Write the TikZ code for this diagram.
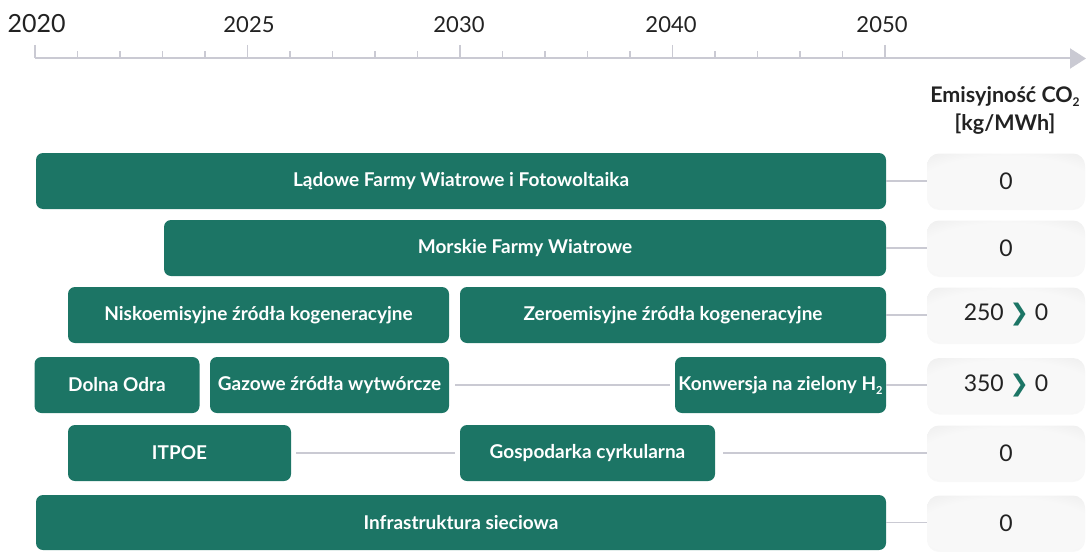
\documentclass[tikz,border=0pt]{standalone}
\usepackage{fontspec}
\setmainfont{Lato}
\newfontfamily\symfont{DejaVu Sans}
\usetikzlibrary{arrows.meta,shadows}
\definecolor{tgreen}{HTML}{1C7565}
\definecolor{tline}{HTML}{CACAD3}
\definecolor{tdark}{HTML}{222222}
\definecolor{bxin}{HTML}{F8F8F8}
\definecolor{bxout}{HTML}{E2E2E2}
\pgfdeclareradialshading{softbox}{\pgfpoint{0bp}{-8bp}}{color(0bp)=(bxin); color(28bp)=(bxin); color(52bp)=(bxout); color(80bp)=(bxout)}
\newcommand{\chev}{{\color{tgreen}\symfont\bfseries ❯}}
\newcommand{\subtwo}[1]{\raisebox{-0.42ex}{\fontsize{#1}{#1}\selectfont 2}}
\tikzset{
  gbox/.style={fill=tgreen, rounded corners=7pt, text=white, inner sep=0pt,
    font=\fontsize{19}{22}\selectfont\bfseries, minimum height=56pt},
  vbox/.style={shading=softbox, rounded corners=12pt, text=tdark, inner sep=0pt,
    font=\fontsize{23}{26}\selectfont, minimum width=158pt, minimum height=55pt,
    drop shadow={opacity=0.06, shadow xshift=0pt, shadow yshift=-1.5pt}},
  conn/.style={draw=tline, line width=1.6pt},
  axis/.style={draw=tline, line width=2pt},
  tick/.style={draw=tline, line width=1.4pt},
  year/.style={text=tdark, anchor=base, inner sep=0pt, font=\fontsize{22}{24}\selectfont},
}
\begin{document}
\begin{tikzpicture}[x=1pt, y=-1pt]
\useasboundingbox (0,0) rectangle (1091,551);
% axis
\coordinate (axs) at (35,58.5);
\coordinate (axe) at (1086,58.5);
\draw[axis, -{Triangle[length=16pt, width=20pt]}] (axs) -- (axe);
\foreach \i in {0,...,20}{
  \pgfmathtruncatemacro{\m}{mod(\i,5)}
  \ifnum\m=0
    \draw[tick] (35+42.5*\i,45) -- (35+42.5*\i,58.5);
  \else
    \draw[tick] (35+42.5*\i,51.5) -- (35+42.5*\i,58.5);
  \fi
}
\node[year, font=\fontsize{25}{28}\selectfont] (y2020) at (36.5,33) {2020};
\node[year] (y2025) at (249,32.5) {2025};
\node[year] (y2030) at (459,32.5) {2030};
\node[year] (y2040) at (671,32.5) {2040};
\node[year] (y2050) at (882,32.5) {2050};
% header
\node[text=tdark, font=\fontsize{21.5}{29}\selectfont\bfseries, align=center, inner sep=0pt] (hdr) at (1005,110)
  {Emisyjność CO\subtwo{12}\\[-1pt][kg/MWh]};
% green boxes
\node[gbox, minimum width=850pt] (lad) at (461,181) {Lądowe Farmy Wiatrowe i Fotowoltaika};
\node[gbox, minimum width=722pt] (mor) at (525,248) {Morskie Farmy Wiatrowe};
\node[gbox, minimum width=381pt] (nisko) at (258.5,315) {Niskoemisyjne źródła kogeneracyjne};
\node[gbox, minimum width=426pt] (zero) at (673,315) {Zeroemisyjne źródła kogeneracyjne};
\node[gbox, minimum width=165pt] (dolna) at (117,385) {Dolna Odra};
\node[gbox, minimum width=239pt] (gaz) at (329.5,385) {Gazowe źródła wytwórcze};
\node[gbox, minimum width=211pt] (konw) at (780.5,385) {Konwersja na zielony H\subtwo{11}};
\node[gbox, minimum width=223pt] (itpoe) at (179.5,453) {ITPOE};
\node[gbox, minimum width=255pt] (gosp) at (587.5,453) {Gospodarka cyrkularna};
\node[gbox, minimum width=850pt, minimum height=55pt] (infra) at (461,522.5) {Infrastruktura sieciowa};
% value boxes
\node[vbox] (v1) at (1006,181) {0};
\node[vbox] (v2) at (1006,248) {0};
\node[vbox] (v3) at (1006,315) {250 \chev{} 0};
\node[vbox] (v4) at (1006,385.5) {350 \chev{} 0};
\node[vbox] (v5) at (1006,453) {0};
\node[vbox] (v6) at (1006,523) {0};
% connectors
\draw[conn] (lad.east) -- (lad.east -| v1.west);
\draw[conn] (mor.east) -- (mor.east -| v2.west);
\draw[conn] (zero.east) -- (zero.east -| v3.west);
\draw[conn, shorten <=6pt, shorten >=5pt] (gaz.east) -- (konw.west);
\draw[conn] (konw.east) -- (konw.east -| v4.west);
\draw[conn, shorten <=5pt, shorten >=5pt] (itpoe.east) -- (gosp.west);
\draw[conn, shorten <=8pt] (gosp.east) -- (gosp.east -| v5.west);
\draw[conn] (infra.east) -- (infra.east -| v6.west);
\end{tikzpicture}
\end{document}
